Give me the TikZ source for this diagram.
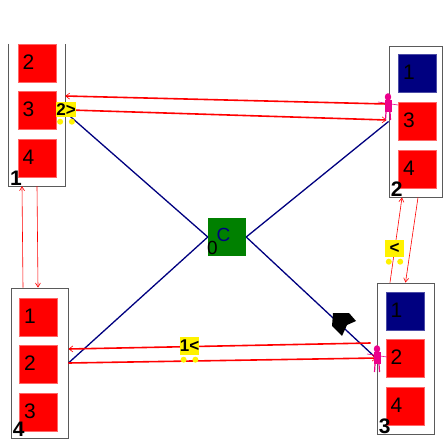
\documentclass[tikz,border=0pt]{standalone}
\usepackage{fontspec}
\setmainfont{Liberation Sans}
\usetikzlibrary{arrows.meta}
\definecolor{navy}{RGB}{0,0,128}
\definecolor{darkgreen}{RGB}{0,128,0}
\definecolor{boxgray}{RGB}{90,90,90}
\tikzset{
  frame/.style={draw=boxgray, line width=0.9pt, inner sep=0pt},
  cell/.style={fill=red, draw=red!60, line width=0.4pt, minimum width=38pt, minimum height=38pt, inner sep=0pt},
  celltext/.style={font=\fontsize{21}{21}\selectfont, anchor=west, inner sep=0pt},
  boxnum/.style={font=\bfseries\fontsize{21}{21}\selectfont, anchor=south west, inner sep=0pt},
  link/.style={navy, line width=1.3pt},
  msg/.style={red, line width=1.6pt, -{Straight Barb[length=4pt,width=6pt,line width=0.6pt]}},
  thinmsg/.style={red, line width=0.6pt, -{Straight Barb[length=4pt,width=5pt]}},
  tag/.style={fill=yellow, inner sep=0pt, font=\bfseries\fontsize{17}{17}\selectfont},
  wheel/.style={fill=yellow, draw=none},
  person/.style={magenta},
}
\newcommand{\walker}[1]{%
  \begin{scope}[shift={(#1)}]
    \fill[person] (0,0) ellipse (3.2pt and 3.8pt);
    \fill[person] (-3.5,3) rectangle (3.5,15);
    \draw[person, line width=1.2pt] (-2,15) -- (-2.5,23) (2,15) -- (2.5,23);
    \draw[person, line width=0.6pt] (-10,5) -- (10,8);
  \end{scope}}
\begin{document}
\begin{tikzpicture}[x=1pt,y=-1pt]
\useasboundingbox (0,0) rectangle (443,441);
\fill[white] (0,0) rectangle (443,441);

% ---- containers ----
\node[inner sep=0pt, minimum width=56pt, minimum height=142pt] (b1) at (37,115) {};
\draw[boxgray, line width=0.9pt] (b1.north west) -- (b1.south west) -- (b1.south east) -- (b1.north east);
\node[frame, minimum width=53pt, minimum height=151pt] (b2) at (415.5,121.5) {};
\node[frame, minimum width=57pt, minimum height=151pt] (b3) at (405.5,358.5) {};
\node[frame, minimum width=57pt, minimum height=150pt] (b4) at (39.5,363) {};

% ---- cells ----
\node[cell] (c12) at (37,63.5) {};
\node[cell] (c13) at (37,110.5) {};
\node[cell] (c14) at (37,158.5) {};
\node[cell, fill=navy, draw=navy!70] (c21) at (417.5,73.5) {};
\node[cell] (c23) at (417.5,121) {};
\node[cell] (c24) at (417.5,169) {};
\node[cell, fill=navy, draw=navy!70] (c31) at (405,311) {};
\node[cell] (c32) at (405,358) {};
\node[cell] (c34) at (405,406.5) {};
\node[cell] (c41) at (38.5,317) {};
\node[cell] (c42) at (38.5,364.5) {};
\node[cell] (c43) at (38.5,412.5) {};

\foreach \c/\t in {c12/2, c13/3, c14/4, c21/1, c23/3, c24/4, c31/1, c32/2, c34/4, c41/1, c42/2, c43/3}
  \node[celltext] at ([xshift=4.5pt,yshift=1pt]\c.west) {\t};

\node[boxnum] (n1) at ([xshift=1pt,yshift=1pt]b1.south west) {1};
\node[boxnum] (n2) at ([xshift=2pt,yshift=1pt]b2.south west) {2};
\node[boxnum] (n3) at ([xshift=2pt,yshift=1pt]b3.south west) {3};
\node[boxnum] (n4) at ([xshift=2pt,yshift=1.5pt]b4.south west) {4};

% ---- hub ----
\node[fill=darkgreen, minimum width=38pt, minimum height=38pt, inner sep=0pt] (g) at (227,237) {};
\node[font=\fontsize{19}{19}\selectfont, text=navy, inner sep=0pt] (gc) at (223.5,235) {C};
\node[font=\fontsize{19}{19}\selectfont, inner sep=0pt] (g0) at (212.5,248) {0};

% ---- links to hub ----
\draw[link] (g.west) -- ([yshift=3pt]b1.east);
\draw[link] (g.west) -- (b4.east);
\draw[link] (g.east) -- (b2.west);
\draw[link] (g.east) -- (b3.west);

% ---- messages ----
\draw[msg] ([xshift=-2pt,yshift=17.5pt]b2.west) -- ([yshift=19pt]b1.east);
\draw[msg] ([xshift=5pt,yshift=5pt]b1.east) -- ([xshift=-2pt,yshift=1.5pt]b2.west);
\draw[msg] ([xshift=-6pt,yshift=15.5pt]b3.west) -- ([yshift=14pt]b4.east);
\draw[msg] (b4.east) -- ([yshift=0.5pt]b3.west);

\draw[thinmsg] ([xshift=-16.5pt]b4.north) -- ([xshift=-15pt]b1.south);
\draw[thinmsg] (b1.south) -- ([xshift=-1.5pt]b4.north);
\draw[thinmsg] ([xshift=-15.5pt]b3.north) -- ([xshift=-13.5pt]b2.south);
\draw[thinmsg] ([xshift=2.5pt]b2.south) -- (b3.north);

% ---- tags ----
\node[tag, minimum width=15pt, minimum height=15pt] (t1) at (66,109.5) {2>};
\node[tag, minimum width=19pt, minimum height=18pt] (t2) at (189.5,346) {1<};
\node[tag, minimum width=19pt, minimum height=17pt] (t3) at (394.5,248.5) {<};
\foreach \t in {t1,t2,t3} {
  \fill[wheel] ([xshift=4pt,yshift=-4.5pt]\t.south west) circle (3pt);
  \fill[wheel] ([xshift=-4pt,yshift=-4.5pt]\t.south east) circle (3pt);
}

% ---- walkers ----
\walker{388,97}
\walker{377,349}

% ---- marker on the hub link ----
\fill[black] (333,313) -- (349,313) -- (356,321) -- (347,325) -- (342,336) -- (332,326) -- cycle;
\end{tikzpicture}
\end{document}
